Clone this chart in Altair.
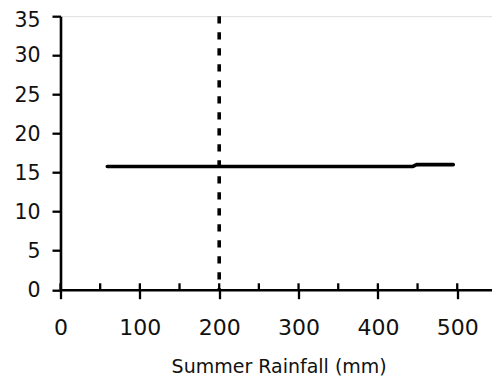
import altair as alt
import pandas as pd

# data
rain_mm = [59, 444, 449, 495]
response = [15.77, 15.77, 16.0, 16.0]
threshold_mm = [200]
x_label_values = [0, 100, 200, 300, 400, 500]
x_tick_values = [0, 50, 100, 150, 200, 250, 300, 350, 400, 450, 500, 550]
y_tick_values = [0, 5, 10, 15, 20, 25, 30, 35]

W, H = 436.4, 273.5
FONT = "DejaVu Sans"
INK = "#111"

df = pd.DataFrame({"rain": rain_mm, "value": response})
thr = pd.DataFrame({"rain": threshold_mm, "lo": [0], "hi": [35]})
ticks = pd.DataFrame({"rain": x_tick_values})

xscale = alt.Scale(domain=[0, 550], nice=False, zero=False)
yscale = alt.Scale(domain=[0, 35], nice=False)

xaxis = alt.Axis(values=x_label_values, title="Summer Rainfall (mm)",
                 grid=False, tickSize=9, tickWidth=2.3, tickColor="black",
                 domainColor="black", domainWidth=2.6,
                 labelFont=FONT, labelFontSize=22, labelColor=INK,
                 labelOverlap=False, labelFlush=False,
                 labelPadding=19, titleFont=FONT, titleFontSize=19,
                 titleFontWeight="normal", titleColor=INK, titlePadding=19)
yaxis = alt.Axis(values=y_tick_values, title=None, grid=False,
                 tickSize=8.5, tickWidth=2.3, tickColor="black",
                 domainColor="black", domainWidth=2.6,
                 labelFont=FONT, labelFontSize=20.5, labelColor=INK,
                 labelOverlap=False, labelFlush=False,
                 labelPadding=12,
                 labelOffset={"condition": {"test": "datum.value == 35", "value": 3.8},
                              "value": 0.7})

line = alt.Chart(df).mark_line(color="black", strokeWidth=3.6, strokeCap="round").encode(
    x=alt.X("rain:Q", scale=xscale, axis=xaxis),
    y=alt.Y("value:Q", scale=yscale, axis=yaxis),
)

vline = alt.Chart(thr).mark_rule(color="black", strokeWidth=3.6, strokeDash=[7.3, 8.7]).encode(
    x=alt.X("rain:Q", scale=xscale, axis=xaxis),
    y=alt.Y("hi:Q", scale=yscale, axis=yaxis),
    y2="lo:Q",
)

upticks = alt.Chart(ticks).mark_rule(color="black", strokeWidth=2.3).encode(
    x=alt.X("rain:Q", scale=xscale, axis=xaxis),
    y=alt.value(H),
    y2=alt.value(H - 6.4),
)

chart = alt.layer(line, vline, upticks).properties(
    width=W, height=H,
    autosize=alt.AutoSizeParams(type="none"),
    padding={"left": 52.5, "top": 8.2, "right": -4.9, "bottom": 87.3},
).configure_view(stroke=None).configure(background="white")

chart.save("out.html", embed_options={"renderer": "svg", "actions": False})
